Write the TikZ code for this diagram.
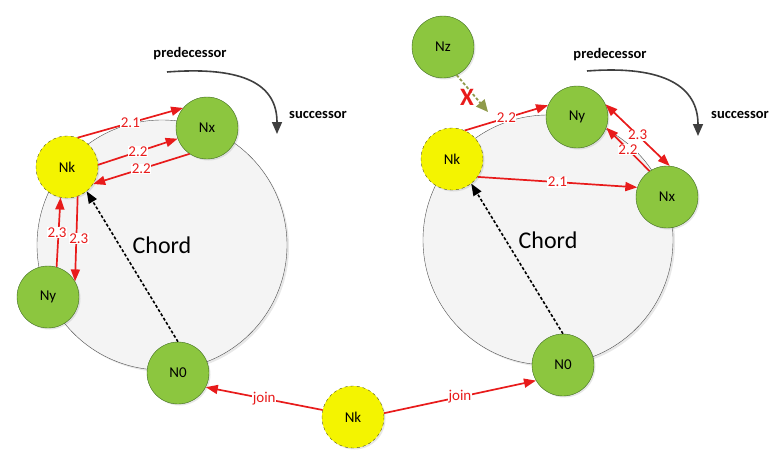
\documentclass[tikz,border=0pt]{standalone}
\usepackage{fontspec}
\setmainfont{Carlito}
\usepackage{tikz}
\usetikzlibrary{arrows.meta,shadows}
\definecolor{chordred}{HTML}{E81B1B}
\definecolor{peergreen}{HTML}{8CC63F}
\definecolor{peeredge}{HTML}{3D6A1E}
\definecolor{joinyellow}{HTML}{F4F400}
\definecolor{joinedge}{HTML}{55551A}
\definecolor{ringfill}{HTML}{F4F4F4}
\definecolor{ringedge}{HTML}{505050}
\definecolor{turngray}{HTML}{3F3F3F}
\definecolor{probegreen}{HTML}{8F9A4A}
\tikzset{
  chordring/.style={circle,draw=ringedge,thin,fill=ringfill,minimum size=250pt,inner sep=0pt,font=\fontsize{24}{27}\selectfont,drop shadow={shadow xshift=2pt,shadow yshift=-2pt,opacity=0.18}},
  peer/.style={circle,draw=peeredge,fill=peergreen,minimum size=62pt,inner sep=0pt,font=\fontsize{15}{17}\selectfont,drop shadow={shadow xshift=1.5pt,shadow yshift=-1.5pt,opacity=0.2}},
  newpeer/.style={peer,draw=joinedge,fill=joinyellow,dashed},
  ringmsg/.style={-{Triangle[length=12pt,width=9pt]},draw=chordred,line width=1.7pt},
  ringpair/.style={ringmsg,{Triangle[length=12pt,width=9pt]}-{Triangle[length=12pt,width=9pt]}},
  msglbl/.style={fill=white,inner sep=0.5pt,text=chordred,font=\fontsize{15}{17}\selectfont},
  lookup/.style={-{Triangle[length=12pt,width=9pt]},draw=black,line width=1.6pt,dash pattern=on 3pt off 2pt},
  probe/.style={-{Triangle[length=12pt,width=11pt]},draw=probegreen,line width=1.8pt,dash pattern=on 3pt off 2pt},
  turnarrow/.style={-{Triangle[length=12pt,width=10pt]},draw=turngray,line width=1.6pt},
  turnlbl/.style={font=\bfseries\fontsize{14.5}{16}\selectfont}
}
\begin{document}
\begin{tikzpicture}[x=1pt,y=-1pt]
\useasboundingbox (0,0) rectangle (780,455);
\node[chordring] (lring) at (162,245) {Chord};
\node[chordring] (rring) at (548,240) {Chord};
\node[turnlbl] (lpredtxt) at (190,54) {predecessor};
\node[turnlbl] (lsucctxt) at (318,115) {successor};
\node[turnlbl] (rpredtxt) at (610,55) {predecessor};
\node[turnlbl] (rsucctxt) at (740,115) {successor};
\coordinate (lturn) at (167,72);
\coordinate (lturnend) at (277,134);
\coordinate (rturn) at (587,71);
\coordinate (rturnend) at (698,136);
\draw[turnarrow] (lturn) .. controls (245,66) and (277,85) .. (lturnend);
\draw[turnarrow] (rturn) .. controls (665,65) and (698,87) .. (rturnend);
\node[newpeer] (lnk) at (67,167) {Nk};
\node[peer] (lnx) at (207,128) {Nx};
\node[peer] (lny) at (48,297) {Ny};
\node[peer] (ln0) at (178,373) {N0};
\node[peer] (rnz) at (443,47) {Nz};
\node[peer] (rny) at (577,117) {Ny};
\node[newpeer] (rnk) at (452,159) {Nk};
\node[peer] (rnx) at (667,197) {Nx};
\node[peer] (rn0) at (563,365) {N0};
\node[newpeer] (jnk) at (353,417) {Nk};
\draw[ringmsg] (lnk.70)--node[msglbl]{2.1}(lnx.140);
\draw[ringmsg] (lnk.4)--node[msglbl]{2.2}(lnx.200);
\draw[ringmsg] (lnx.236)--node[msglbl]{2.2}(lnk.327);
\draw[ringmsg] (lny.74)--node[msglbl,xshift=-1.5pt]{2.3}(lnk.258);
\draw[ringmsg] (lnk.290)--node[msglbl,xshift=2.5pt]{2.3}(lny.30);
\draw[lookup] (ln0.90)--(lnk.309);
\draw[ringmsg] (rnk.66)--node[msglbl]{2.2}(rny.158);
\draw[ringmsg] (rnk.325)--node[msglbl]{2.1}(rnx.162);
\draw[ringpair] (rny.24)--node[msglbl]{2.3}(rnx.85);
\draw[ringmsg] (rnx.124)--node[msglbl]{2.2}(rny.340);
\draw[lookup] (rn0.90)--(rnk.308);
\coordinate (probeend) at (488,112);
\draw[probe] (rnz.296)--(probeend);
\node[text=chordred,font=\bfseries\fontsize{25}{25}\selectfont] (blocked) at (467,97) {X};
\draw[ringmsg] (jnk.167)--node[msglbl]{join}(ln0.333);
\draw[ringmsg] (jnk.7)--node[msglbl]{join}(rn0.210);
\end{tikzpicture}
\end{document}
